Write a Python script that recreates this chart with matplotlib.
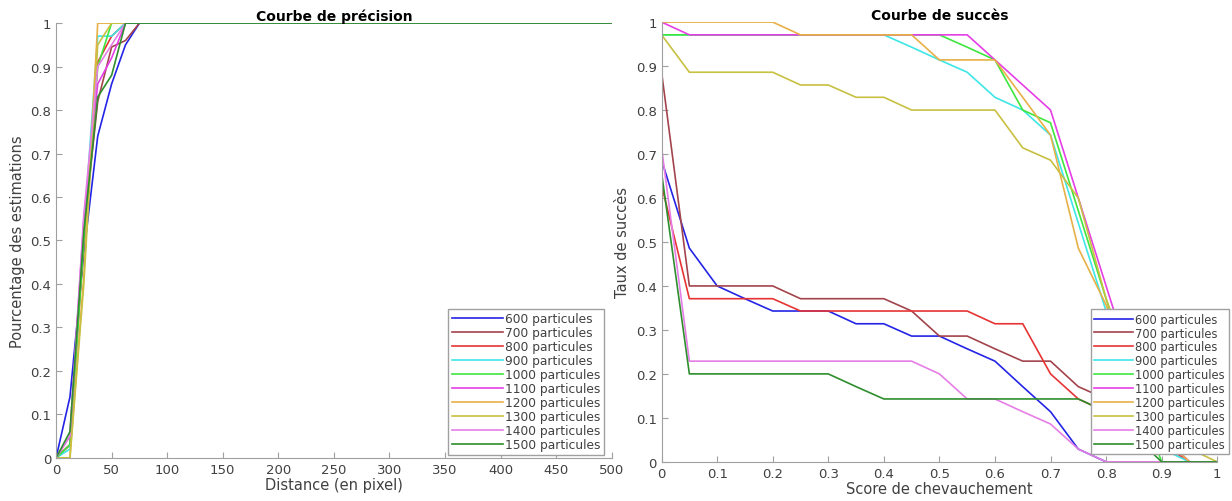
import numpy as np
import matplotlib
matplotlib.use("Agg")
import matplotlib.pyplot as plt

labels = ["600 particules", "700 particules", "800 particules", "900 particules",
          "1000 particules", "1100 particules", "1200 particules", "1300 particules",
          "1400 particules", "1500 particules"]
colors = ["#2424e6", "#a3444c", "#e63434", "#3ee6e6", "#3ee63e",
          "#e63ee6", "#e8b048", "#c8c040", "#e67ee6", "#2e8e2e"]

# precision curve: distance (pixels) vs fraction
dist = [0, 12.5, 25, 37.5, 50, 62.5, 75, 500]
prec = [
    [0, 0.14, 0.47, 0.74, 0.86, 0.95, 1, 1],
    [0, 0.03, 0.52, 0.82, 0.945, 0.96, 1, 1],
    [0, 0.03, 0.50, 0.91, 0.97, 1, 1, 1],
    [0, 0.02, 0.52, 0.97, 0.97, 1, 1, 1],
    [0, 0.03, 0.50, 0.90, 1, 1, 1, 1],
    [0, 0.05, 0.55, 0.86, 0.92, 1, 1, 1],
    [0, 0, 0.42, 1, 1, 1, 1, 1],
    [0, 0, 0.40, 0.95, 1, 1, 1, 1],
    [0, 0.05, 0.56, 0.90, 0.95, 1, 1, 1],
    [0, 0.06, 0.52, 0.83, 0.88, 1, 1, 1],
]

# success curve: overlap score vs success rate
seuil = np.round(np.arange(0, 1.0001, 0.05), 2)
succes = [
    [0.686, 0.486, 0.4, 0.371, 0.343, 0.343, 0.343, 0.314, 0.314, 0.286, 0.286,
     0.257, 0.229, 0.171, 0.114, 0.029, 0, 0, 0, 0, 0],
    [0.886, 0.4, 0.4, 0.4, 0.4, 0.371, 0.371, 0.371, 0.371, 0.343, 0.286,
     0.286, 0.257, 0.229, 0.229, 0.171, 0.143, 0.1, 0.06, 0, 0],
    [0.629, 0.371, 0.371, 0.371, 0.371, 0.343, 0.343, 0.343, 0.343, 0.343, 0.343,
     0.343, 0.314, 0.314, 0.2, 0.143, 0.114, 0.08, 0.04, 0, 0],
    [0.971, 0.971, 0.971, 0.971, 0.971, 0.971, 0.971, 0.971, 0.971, 0.943, 0.914,
     0.886, 0.829, 0.8, 0.743, 0.543, 0.343, 0.143, 0.03, 0, 0],
    [0.971, 0.971, 0.971, 0.971, 0.971, 0.971, 0.971, 0.971, 0.971, 0.971, 0.971,
     0.943, 0.914, 0.8, 0.771, 0.571, 0.371, 0.171, 0, 0, 0],
    [1, 0.971, 0.971, 0.971, 0.971, 0.971, 0.971, 0.971, 0.971, 0.971, 0.971,
     0.971, 0.914, 0.857, 0.8, 0.6, 0.4, 0.2, 0.06, 0, 0],
    [1, 1, 1, 1, 1, 0.971, 0.971, 0.971, 0.971, 0.971, 0.914,
     0.914, 0.914, 0.829, 0.743, 0.486, 0.357, 0.2, 0.06, 0, 0],
    [0.971, 0.886, 0.886, 0.886, 0.886, 0.857, 0.857, 0.829, 0.829, 0.8, 0.8,
     0.8, 0.8, 0.714, 0.686, 0.6, 0.371, 0.2, 0.1, 0.03, 0],
    [0.714, 0.229, 0.229, 0.229, 0.229, 0.229, 0.229, 0.229, 0.229, 0.229, 0.2,
     0.143, 0.143, 0.114, 0.086, 0.029, 0, 0, 0, 0, 0],
    [0.657, 0.2, 0.2, 0.2, 0.2, 0.2, 0.2, 0.171, 0.143, 0.143, 0.143,
     0.143, 0.143, 0.143, 0.143, 0.143, 0.114, 0.06, 0, 0, 0],
]

plt.rcParams["font.family"] = "DejaVu Sans"
grey = "#404040"


def style_axes(ax):
    for s in ["top", "right"]:
        ax.spines[s].set_visible(False)
    for s in ["left", "bottom"]:
        ax.spines[s].set_color("#a0a0a0")
    ax.tick_params(direction="in", length=4, colors="#a0a0a0",
                   labelcolor=grey, labelsize=9.5)


def fmt(v):
    return "%g" % v


def make_legend(ax, loc, anchor, size, hl):
    leg = ax.legend(loc=loc, bbox_to_anchor=anchor, fontsize=size,
                    fancybox=False, framealpha=1, handlelength=hl, handletextpad=0.2,
                    borderpad=0.3, labelspacing=0.08, borderaxespad=0)
    leg.get_frame().set_edgecolor("#a0a0a0")
    for t in leg.get_texts():
        t.set_color(grey)
    return leg


fig = plt.figure(figsize=(12.32, 5.02), dpi=100)
ax1 = fig.add_axes([0.0455, 0.086, 0.451, 0.866])
ax2 = fig.add_axes([0.537, 0.078, 0.451, 0.876])

for i in range(len(labels)):
    ax1.plot(dist, prec[i], color=colors[i], lw=1.2, label=labels[i])
    ax2.plot(seuil, succes[i], color=colors[i], lw=1.2, label=labels[i])

ax1.set_xlim(0, 500)
ax1.set_ylim(0, 1)
ax1.set_xticks(np.arange(0, 501, 50))
yt = np.round(np.arange(0, 1.01, 0.1), 1)
ax1.set_yticks(yt)
ax1.set_yticklabels([fmt(v) for v in yt])
ax1.set_xlabel("Distance (en pixel)", fontsize=10.5, color=grey, labelpad=1)
ax1.set_ylabel("Pourcentage des estimations", fontsize=10.5, color=grey, labelpad=4)
ax1.set_title("Courbe de précision", fontsize=10, fontweight="bold", pad=2)
style_axes(ax1)
make_legend(ax1, "lower right", (0.987, 0.007), 8.8, 4.2)

ax2.set_xlim(0, 1)
ax2.set_ylim(0, 1)
xt = np.round(np.arange(0, 1.01, 0.1), 1)
ax2.set_xticks(xt)
ax2.set_xticklabels([fmt(v) for v in xt])
ax2.set_yticks(yt)
ax2.set_yticklabels([fmt(v) for v in yt])
ax2.set_xlabel("Score de chevauchement", fontsize=10.5, color=grey, labelpad=1)
ax2.set_ylabel("Taux de succès", fontsize=10.5, color=grey, labelpad=4)
ax2.set_title("Courbe de succès", fontsize=10, fontweight="bold", pad=2)
style_axes(ax2)
make_legend(ax2, "lower left", (0.772, 0.017), 8.3, 3.4)

fig.savefig("out.png", dpi=100)
